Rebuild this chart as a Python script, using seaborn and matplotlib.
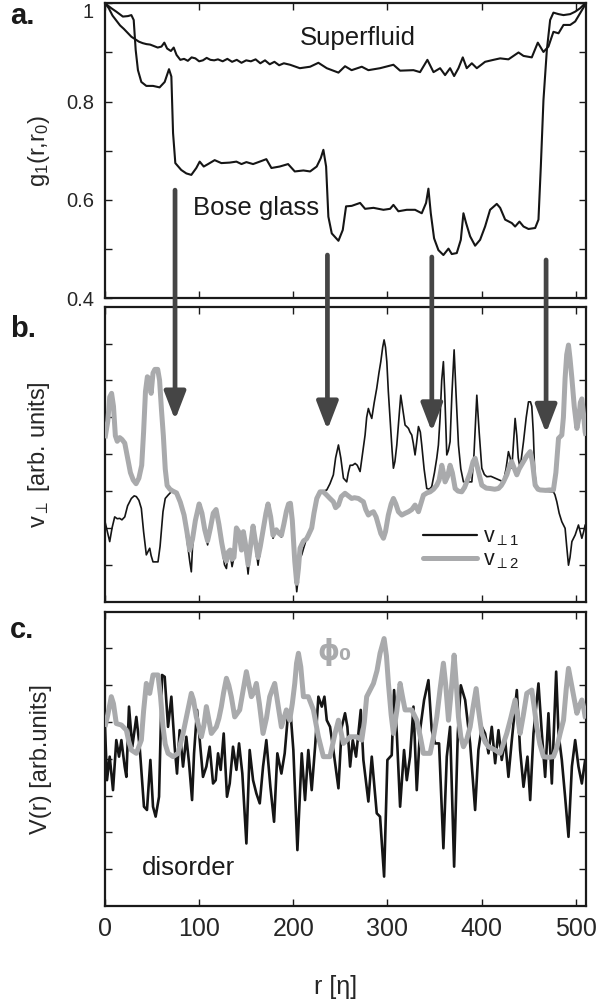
import numpy as np
import pandas as pd
import matplotlib
matplotlib.use("Agg")
import matplotlib.pyplot as plt
from matplotlib.patches import ConnectionPatch
import seaborn as sns

# ---------------- data ----------------
# panel a: g1(r, r0)
r_sf = [0, 4, 8, 12, 16, 20, 24, 28, 32, 36, 40, 44, 48, 52, 56, 60, 63, 66, 70, 73, 76, 80, 84, 88, 92,
        96, 100, 104, 108, 112, 116, 120, 125, 130, 135, 140, 145, 150, 155, 160, 165, 170, 175, 180,
        185, 190, 196.6, 207, 217.9, 226.7, 235.6, 248, 255, 262, 272.8, 279.8, 292.2, 306.4, 313.5,
        327.7, 334.7, 342.5, 349, 356, 361.3, 366.6, 370.9, 375.5, 380.1, 384.3, 389.7, 395, 403.8,
        412.7, 419.8, 428.6, 439.3, 444.6, 453.4, 459.8, 465.8, 471.1, 476.4, 481.8, 487.1, 494.2,
        499.5, 504.8, 510.1, 511]
g_sf = [1.0, 0.99, 0.975, 0.965, 0.955, 0.948, 0.94, 0.932, 0.927, 0.922, 0.919, 0.917, 0.916, 0.913,
        0.91, 0.912, 0.92, 0.908, 0.903, 0.91, 0.895, 0.885, 0.887, 0.883, 0.89, 0.888, 0.882, 0.884,
        0.889, 0.885, 0.884, 0.886, 0.882, 0.887, 0.881, 0.885, 0.879, 0.884, 0.882, 0.886, 0.878,
        0.884, 0.876, 0.881, 0.874, 0.878, 0.875, 0.868, 0.871, 0.879, 0.868, 0.859, 0.872, 0.864,
        0.871, 0.864, 0.868, 0.875, 0.863, 0.864, 0.86, 0.885, 0.86, 0.868, 0.854, 0.868, 0.852, 0.868,
        0.89, 0.868, 0.878, 0.868, 0.881, 0.885, 0.888, 0.886, 0.9, 0.893, 0.89, 0.92, 0.901, 0.912,
        0.942, 0.939, 0.956, 0.956, 0.963, 0.98, 0.997, 1.0]

r_bg = [0, 6.7, 12, 19, 24.4, 28, 30.5, 32.6, 35, 38.6, 43.9, 51, 58, 63.4, 68, 70.5, 72.3, 74.7, 81,
        86.4, 91.7, 97, 100.6, 104.9, 109.5, 116.5, 123.6, 132.5, 139.6, 145, 150.2, 157.3, 164.4,
        171.4, 176.8, 185.6, 194.5, 201.6, 210.8, 217.9, 224.9, 229.2, 232, 234.9, 237.3, 240.9,
        248, 252.6, 256.1, 262.1, 271, 276.3, 285.2, 295.8, 302.9, 306.4, 311.7, 320.6, 329.4,
        336.5, 341.1, 343.6, 346.1, 349.6, 354.2, 359.5, 364.9, 368.4, 373.7, 378, 380.8, 383.6,
        387.9, 393.2, 398.5, 403.8, 409.1, 416.2, 419.8, 425.1, 432.2, 435.7, 440.3, 444.6, 449.9,
        457, 460.5, 463, 465.8, 469.4, 472.9, 476.4, 481.8, 487.1, 494.2, 499.5, 504.8, 510.1, 511]
g_bg = [1.0, 0.99, 0.983, 0.973, 0.974, 0.976, 0.966, 0.905, 0.864, 0.84, 0.832, 0.832, 0.829, 0.84,
        0.866, 0.851, 0.736, 0.675, 0.661, 0.654, 0.651, 0.665, 0.678, 0.668, 0.673, 0.681, 0.675,
        0.676, 0.678, 0.673, 0.677, 0.673, 0.678, 0.683, 0.665, 0.668, 0.673, 0.658, 0.66, 0.658,
        0.668, 0.685, 0.702, 0.668, 0.566, 0.532, 0.517, 0.539, 0.587, 0.588, 0.594, 0.582, 0.584,
        0.58, 0.582, 0.59, 0.577, 0.58, 0.58, 0.573, 0.594, 0.623, 0.573, 0.522, 0.498, 0.488, 0.501,
        0.49, 0.492, 0.519, 0.573, 0.553, 0.526, 0.507, 0.519, 0.546, 0.58, 0.592, 0.584, 0.56, 0.553,
        0.546, 0.556, 0.546, 0.541, 0.543, 0.56, 0.668, 0.803, 0.905, 0.966, 0.981, 0.978, 0.976,
        0.978, 0.983, 0.99, 1.0, 1.0]

# panel b: v_perp1 (black) and v_perp2 (grey)
r_v1 = [0, 2.5, 5, 7.5, 10.3, 13, 15.6, 18, 21, 24, 28, 31, 33.3, 36, 38.6, 41, 43.9, 45.5, 47.5, 49,
        51, 54, 56.3, 58.5, 61.6, 64, 67, 70, 72.3, 75.8, 80, 84, 87, 90, 91.7, 93, 96, 100, 103, 106,
        109, 112, 115, 118, 121, 124, 127, 129, 131, 133, 135, 137, 139.6, 142, 145, 147, 149, 152,
        155, 157.3, 160, 162.6, 165, 168, 171, 173.2, 176, 178.5, 182, 185, 187.4, 190, 192.7, 195,
        197, 199, 201.6, 203.7, 205.5, 207.2, 209, 211, 214, 216, 219.6, 222, 225, 228.5, 232, 235.6,
        239, 242.6, 245, 248, 250.5, 253.3, 256.8, 258.5, 260.4, 263, 265.7, 268, 271, 273.5, 276.3,
        278, 279.8, 281.5, 283.4, 286, 288.7, 291, 293, 295, 296.5, 298, 299.4, 301, 303, 305, 306.4,
        308, 310, 312, 314.2, 316.5, 318.8, 320.5, 322.4, 324, 325.9, 327.5, 329.4, 331, 333, 335,
        336.5, 339, 341.8, 344.5, 347.1, 350, 352.5, 354.2, 356, 357.7, 359.5, 361, 363.1, 364.8,
        366.6, 368.5, 370.9, 373, 375.5, 378, 380.8, 385, 389.7, 392, 395, 397.5, 400.3, 403, 405.6,
        410, 414.5, 419, 423.3, 426, 428.6, 430.5, 432.2, 434, 435.7, 437.5, 439, 441, 444.6, 447.5,
        449.9, 452, 453.4, 455, 456.5, 458.7, 465, 470, 476.4, 478, 480, 482.5, 485.3, 488.8, 490.5,
        492.4, 494, 496, 499.5, 503, 506.6, 508.5, 510.1, 511]
v1 = [2.17, 1.9, 1.63, 2.0, 2.3, 2.25, 2.26, 2.22, 2.3, 2.6, 2.8, 2.87, 2.85, 2.75, 2.53, 1.9, 1.27,
      1.35, 1.45, 1.25, 1.08, 1.08, 1.08, 1.5, 2.44, 2.8, 2.89, 2.97, 2.98, 2.95, 2.7, 2.35, 1.7, 1.1,
      0.81, 1.5, 2.2, 2.65, 2.4, 1.9, 1.54, 2.0, 2.4, 2.5, 2.1, 1.5, 1.0, 0.9, 1.35, 1.3, 0.95, 1.2,
      2.0, 1.9, 1.4, 1.9, 1.5, 0.75, 1.6, 2.05, 1.5, 0.99, 1.5, 1.95, 2.4, 2.65, 2.3, 1.72, 1.95, 1.85,
      1.75, 2.1, 2.45, 2.65, 2.6, 2.2, 1.0, 0.27, 0.7, 1.2, 1.27, 1.45, 1.7, 1.81, 1.99, 2.4, 2.8, 2.98,
      3.0, 3.03, 3.2, 3.44, 3.9, 4.25, 3.9, 3.35, 3.25, 3.5, 3.7, 3.7, 3.75, 3.7, 3.53, 4.0, 4.52, 5.0,
      5.24, 5.1, 4.97, 5.4, 5.79, 6.2, 6.51, 6.9, 7.1, 6.9, 6.51, 5.7, 4.88, 4.1, 3.62, 3.8, 4.25, 4.9,
      5.6, 5.2, 4.79, 4.75, 4.7, 4.6, 4.52, 4.3, 3.98, 4.3, 4.75, 4.6, 4.25, 3.6, 3.07, 3.05, 3.12, 3.5,
      3.9, 4.25, 5.0, 6.0, 6.51, 5.6, 3.98, 4.1, 4.34, 5.6, 6.83, 5.6, 4.25, 3.6, 3.25, 3.25, 3.25, 4.0,
      5.6, 4.6, 3.62, 3.45, 3.39, 3.4, 3.35, 3.3, 3.25, 3.6, 4.07, 3.9, 3.62, 4.3, 4.97, 4.5, 3.9,
      3.62, 4.34, 5.0, 5.42, 5.42, 5.3, 4.6, 3.5, 3.07, 3.0, 2.99, 2.98, 2.9, 2.71, 2.4, 2.17, 1.99,
      1.5, 0.99, 1.2, 1.63, 1.81, 2.08, 1.72, 1.9, 2.08, 2.1]

r_v2 = [0, 3, 5, 7, 9, 11, 13, 15.6, 18, 21, 24, 27, 30, 33, 36, 39, 41, 43, 45, 47, 49, 51, 53, 56, 58,
        60, 62, 64, 66, 69, 72, 76, 80, 84, 87, 90, 93, 96, 100, 103, 106, 109, 112, 115, 118, 121, 124,
        127, 129, 131, 133, 135, 137, 139.6, 142, 145, 147, 149, 152, 155, 157.3, 160, 162.6, 165, 168,
        171, 173.2, 176, 178.5, 182, 185, 187.4, 190, 192.7, 195, 197, 199, 201.6, 203.7, 205.5, 207.2,
        209, 211, 214, 216, 219.6, 222, 225, 228.5, 232, 235.6, 239, 242.6, 245, 248, 251, 255, 258,
        262, 265, 269.2, 272, 274.5, 277, 279.8, 282, 285.2, 288, 290.5, 293, 295.8, 298, 301, 304,
        306.4, 309, 311.7, 315.3, 319, 322.4, 326, 329.4, 331, 333, 336, 338.3, 342, 345.4, 349, 352.5,
        355, 357.8, 359.5, 361.3, 364, 366.6, 369, 372, 375, 379, 382, 384.3, 388, 391, 393.2, 396,
        400.3, 405, 409, 414, 418, 421, 423.3, 427, 430, 432, 435, 437.5, 440, 444.6, 448, 451.7, 454,
        457, 460, 462.3, 468, 472, 476.4, 479, 481.8, 485.3, 487, 488.8, 490.5, 492.4, 494, 496, 498.5,
        501.3, 503.5, 505, 506.6, 508.3, 510.1, 511]
v2 = [4.43, 4.9, 5.55, 5.65, 5.3, 4.5, 4.35, 4.45, 4.4, 4.3, 3.9, 3.5, 3.3, 3.2, 3.35, 3.7, 4.6, 5.7,
      6.1, 6.05, 5.65, 6.2, 6.3, 6.3, 6.0, 5.2, 4.5, 3.6, 3.15, 3.05, 3.0, 2.95, 2.7, 2.35, 1.9, 1.4,
      1.7, 2.2, 2.65, 2.4, 1.95, 1.65, 2.0, 2.4, 2.5, 2.1, 1.6, 1.2, 1.1, 1.35, 1.4, 1.15, 1.2, 2.0,
      1.9, 1.4, 1.9, 1.6, 1.0, 1.6, 2.05, 1.6, 1.2, 1.5, 1.95, 2.4, 2.65, 2.3, 1.8, 1.95, 1.85, 1.8,
      2.1, 2.45, 2.65, 2.67, 2.2, 1.1, 0.5, 0.9, 1.45, 1.55, 1.65, 1.7, 1.8, 2.0, 2.4, 2.8, 2.98, 2.98,
      2.89, 2.8, 2.71, 2.55, 2.62, 2.85, 2.94, 2.88, 2.8, 2.82, 2.8, 2.75, 2.71, 2.5, 2.35, 2.4, 2.44,
      2.3, 2.08, 1.85, 1.72, 1.9, 2.35, 2.65, 2.8, 2.65, 2.44, 2.35, 2.4, 2.44, 2.5, 2.62, 2.55, 2.44,
      2.7, 2.89, 2.95, 2.98, 3.05, 3.16, 3.3, 3.7, 3.5, 3.25, 3.4, 3.7, 3.5, 3.07, 3.0, 2.98, 3.1,
      3.25, 3.5, 3.8, 3.89, 3.6, 3.16, 3.08, 3.07, 3.05, 3.07, 3.15, 3.25, 3.45, 3.7, 3.8, 3.6, 3.44,
      3.6, 3.8, 3.95, 4.07, 3.8, 3.16, 3.05, 3.03, 3.02, 3.03, 3.03, 3.5, 4.43, 4.52, 5.0, 6.06, 6.7,
      6.96, 6.6, 6.06, 5.3, 4.7, 5.0, 5.4, 5.5, 5.1, 4.6, 4.5]

# panel c: disorder potential V(r) (black) and condensate phi0 (grey)
r_dis = [0, 2.1, 5, 8.5, 12, 14.9, 17.4, 20.9, 22.7, 25.5, 29, 33.3, 36.8, 41.4, 44.6, 48.2, 51, 53.8,
         57.4, 60.6, 63.4, 67, 70.5, 74, 76.5, 79.3, 82.9, 86.4, 89.3, 92.5, 94.6, 97.8, 100.6, 104.1,
         107.7, 111.2, 114.8, 117.6, 120.1, 122.9, 126.1, 129.6, 132.5, 136, 139.6, 142.4, 145.9,
         150.2, 153.7, 157.3, 160.8, 164.4, 167.9, 171.4, 175.7, 179.6, 183.1, 187.4, 190.9, 194.5,
         197, 200.1, 204.4, 209, 212.5, 216, 219.6, 223.2, 226.7, 230.3, 233.1, 235.6, 239.1, 242.6,
         248, 251.5, 255, 257.5, 260.4, 263.2, 266.7, 271.7, 274.5, 279.8, 283.4, 288.7, 292.2, 296.5,
         300, 304.6, 307.1, 310, 313.5, 317.7, 320.6, 324.1, 327.7, 331.2, 334.7, 339, 343.6, 347.1,
         350.7, 354.9, 359.5, 363.1, 366.6, 370.9, 374.8, 378, 382.6, 387.9, 393.2, 396.7, 400.3,
         403.8, 407.4, 410.9, 414.5, 418, 421.5, 425.1, 428.6, 432.2, 437.5, 441, 444.6, 448.8, 451.7,
         455.2, 460.5, 464.1, 467.6, 471.1, 474.7, 479.3, 481.8, 485.3, 488.8, 492.4, 496, 499.5, 503,
         506.6, 510.1]
dis = [4.87, 3.42, 4.06, 3.15, 4.51, 4.06, 4.51, 3.79, 3.51, 5.42, 4.33, 5.14, 4.33, 2.7, 2.61, 3.97,
       2.7, 2.43, 2.97, 6.28, 6.23, 4.87, 5.69, 4.33, 3.6, 4.78, 3.79, 4.6, 3.88, 2.88, 4.15, 5.33, 4.51,
       3.51, 3.79, 4.33, 3.33, 3.42, 4.15, 3.7, 4.69, 2.97, 3.33, 4.33, 3.7, 4.42, 3.6, 1.7, 4.24, 3.42,
       3.06, 2.79, 3.79, 4.51, 3.24, 2.29, 4.15, 3.6, 4.15, 5.24, 5.3, 4.24, 1.52, 4.15, 2.88, 4.24,
       3.15, 4.33, 5.69, 5.42, 5.69, 5.05, 4.87, 4.24, 3.2, 4.87, 5.24, 4.87, 3.79, 4.51, 4.06, 5.33,
       3.97, 2.84, 4.06, 2.52, 2.43, 0.8, 3.97, 4.1, 5.87, 4.69, 2.7, 4.24, 3.42, 4.06, 5.42, 3.15, 4.78,
       5.6, 6.14, 4.78, 4.42, 4.42, 1.57, 4.06, 4.87, 1.07, 4.69, 6.0, 5.6, 4.42, 2.61, 4.24, 4.87, 4.69,
       4.15, 4.87, 3.88, 4.78, 3.97, 4.51, 3.51, 4.51, 5.87, 4.24, 3.24, 4.06, 2.88, 4.69, 6.05, 4.69,
       3.51, 5.24, 3.33, 6.37, 4.69, 3.97, 2.97, 1.88, 3.79, 4.51, 3.79, 3.33, 3.97]

r_phi = [0, 3, 6.7, 9, 12, 17.4, 22.7, 25, 28, 33.3, 38.6, 41, 43.9, 47.5, 51, 56.3, 59, 61.6, 64, 67,
         72.3, 77.6, 82.9, 87, 91.7, 94, 97, 102.4, 105, 107.7, 110, 113, 118.3, 121, 123.6, 126, 129,
         131.5, 134.2, 137.8, 143.1, 147, 150.2, 153, 155.5, 158, 160.8, 164, 167.9, 171.5, 175, 178,
         180.3, 183, 187.4, 190, 192.7, 196.2, 199, 201.6, 203.5, 205.5, 208, 210.8, 216, 221.4, 226.7,
         232, 239, 244.4, 248, 251, 253.3, 260.4, 267.4, 272.8, 275.5, 278, 285.2, 289, 292.2, 296.5,
         299, 301.1, 304, 306.4, 310, 313.5, 316, 318.8, 325.9, 331.2, 335, 338.3, 345.4, 349, 352.5,
         356, 359.5, 362, 364.9, 368, 370.9, 373, 375.5, 378, 380.8, 384, 387.9, 391, 394.3, 397, 400.3,
         404, 407.4, 414.5, 419.8, 423, 426.8, 431, 435.7, 438.5, 441, 444.5, 448.1, 453.4, 456, 458.7,
         462, 465.8, 471, 476.4, 480, 483.5, 487.1, 490, 492.4, 496, 498.5, 501.3, 504, 506.6, 508.5,
         510.1, 511]
phi0 = [4.87, 5.2, 5.69, 5.5, 4.96, 4.92, 4.78, 4.5, 4.24, 4.15, 4.51, 5.3, 6.05, 5.78, 6.28, 6.28, 5.7,
        4.87, 4.4, 4.15, 4.06, 4.15, 4.69, 5.2, 5.78, 5.6, 5.14, 4.6, 4.9, 5.42, 5.1, 4.69, 4.87, 5.1,
        5.42, 5.8, 6.19, 6.0, 5.69, 5.14, 5.33, 5.9, 6.37, 6.0, 5.69, 5.8, 6.05, 5.5, 4.69, 5.1, 5.69,
        5.9, 6.05, 5.6, 4.87, 5.1, 5.33, 5.05, 5.5, 6.05, 6.6, 6.87, 6.5, 5.69, 5.69, 5.33, 4.6, 4.06,
        4.06, 4.69, 5.05, 4.7, 4.42, 4.6, 4.6, 4.51, 5.0, 5.69, 6.05, 6.4, 6.87, 7.27, 6.8, 6.05, 5.2,
        4.69, 5.3, 6.05, 5.7, 5.33, 5.33, 5.05, 4.6, 4.15, 4.15, 4.6, 5.14, 5.9, 6.6, 6.0, 5.05, 5.9,
        6.82, 6.1, 5.14, 4.6, 4.33, 4.5, 4.87, 5.4, 5.91, 5.3, 4.69, 4.45, 4.33, 4.24, 4.15, 4.4, 4.69,
        5.1, 5.6, 5.1, 4.69, 5.2, 5.78, 5.87, 5.4, 4.87, 4.4, 4.06, 4.04, 4.06, 4.3, 4.69, 5.05, 5.9,
        6.46, 5.96, 5.6, 5.24, 5.45, 5.6, 5.4, 5.14, 5.1]

# arrows from the g1 jumps down into panel b
arrow_r = [74.4, 236.3, 347.2, 468.6]
arrow_top = [0.62, 0.488, 0.484, 0.478]
arrow_tip = [4.93, 4.66, 4.61, 4.57]

x_ticks = [0, 100, 200, 300, 400, 500]
g_ticks = [0.4, 0.5, 0.6, 0.7, 0.8, 0.9, 1.0]
g_ticklabels = ["0.4", "", "0.6", "", "0.8", "", "1"]
arb_ticks = [1, 2, 3, 4, 5, 6, 7]

# ---------------- style ----------------
sns.set_style("ticks")
plt.rcParams["font.family"] = ["Liberation Sans", "DejaVu Sans"]
plt.rcParams["mathtext.fontset"] = "custom"
plt.rcParams["mathtext.rm"] = "Liberation Sans"
plt.rcParams["mathtext.it"] = "Liberation Sans"
plt.rcParams["text.color"] = "#1a1a1a"

BLACK = "#151515"
GREY = "#a9aaac"
ARROW = "#454545"

fig = plt.figure(figsize=(5.97, 10.01), dpi=100)
W, H = 597, 1001
def axrect(left, top, right, bottom):
    return [left / W, 1 - bottom / H, (right - left) / W, (bottom - top) / H]

ax_a = fig.add_axes(axrect(105, 3.3, 586, 298.3))
ax_b = fig.add_axes(axrect(105, 306.7, 586, 601.7))
ax_c = fig.add_axes(axrect(105, 611.7, 586, 906))

def line(ax, x, y, color, lw, z=2):
    sns.lineplot(x=x, y=y, ax=ax, color=color, linewidth=lw, sort=False, estimator=None,
                 legend=False, zorder=z)
    ax.lines[-1].set_solid_joinstyle("round")
    ax.lines[-1].set_solid_capstyle("butt")

line(ax_a, r_sf, g_sf, BLACK, 1.5)
line(ax_a, r_bg, g_bg, BLACK, 1.5)

line(ax_b, r_v1, v1, BLACK, 1.2, z=2)
line(ax_b, r_v2, v2, GREY, 3.6, z=3)

line(ax_c, r_dis, dis, BLACK, 1.9, z=2)
line(ax_c, r_phi, phi0, GREY, 3.6, z=3)

for ax in (ax_a, ax_b, ax_c):
    ax.set_xlim(0, 511)
    ax.set_xticks(x_ticks)
    ax.tick_params(direction="in", length=5, width=1, top=True, right=True,
                   color="#1a1a1a", pad=8)
    for s in ax.spines.values():
        s.set_linewidth(1.6)
        s.set_color("#1a1a1a")
    ax.set_xlabel("")
    ax.set_ylabel("")

ax_a.set_ylim(0.4, 1.0)
ax_a.set_yticks(g_ticks)
ax_a.set_yticklabels(g_ticklabels, fontsize=14.5)
ax_a.get_yticklabels()[-1].set_va("top")
ax_a.set_xticklabels([])

for ax in (ax_b, ax_c):
    ax.set_ylim(0, 8)
    ax.set_yticks(arb_ticks)
    ax.set_yticklabels([])
ax_b.set_xticklabels([])
ax_c.set_xticklabels([str(t) for t in x_ticks], fontsize=18)

ax_a.set_ylabel(r"g$_1$(r,r$_0$)", fontsize=17)
ax_b.set_ylabel(r"v$_\perp$ [arb. units]", fontsize=17)
ax_c.set_ylabel("V(r) [arb.units]", fontsize=17)
for ax in (ax_a, ax_b, ax_c):
    ax.yaxis.set_label_coords(-0.11, 0.5)
ax_c.set_xlabel("r [η]", fontsize=18)
ax_c.xaxis.set_label_coords(0.48, -0.235)

# annotations
ax_a.text(207, 0.915, "Superfluid", fontsize=18.5, ha="left", va="baseline")
ax_a.text(93, 0.570, "Bose glass", fontsize=18.5, ha="left", va="baseline")
ax_c.text(39.3, 0.84, "disorder", fontsize=18.5, ha="left", va="baseline")
ax_c.text(226, 6.9, "ϕ₀", fontsize=20, color=GREY, fontweight="bold",
          family=["DejaVu Sans"], ha="left", va="center")

leg_handles = [plt.Line2D([], [], color=BLACK, lw=1.6), plt.Line2D([], [], color=GREY, lw=3.6)]
ax_b.legend(leg_handles, [r"v$_{\perp1}$", r"v$_{\perp2}$"], loc="center left",
            bbox_to_anchor=(0.661, 0.18), frameon=False, fontsize=15.5, handlelength=2.5,
            handletextpad=0.3, labelspacing=0.05, borderpad=0, borderaxespad=0)

# panel letters
fig.text(10 / W, 1 - 24 / H, "a.", fontsize=21, fontweight="bold", va="baseline")
fig.text(10 / W, 1 - 336.7 / H, "b.", fontsize=21, fontweight="bold", va="baseline")
fig.text(10 / W, 1 - 638.3 / H, "c.", fontsize=21, fontweight="bold", va="baseline")

# arrows
for xr, ytop, ytip in zip(arrow_r, arrow_top, arrow_tip):
    cp = ConnectionPatch(xyA=(xr, ytop), coordsA=ax_a.transData,
                         xyB=(xr, ytip), coordsB=ax_b.transData,
                         arrowstyle="-|>,head_length=1.3,head_width=0.5", mutation_scale=13,
                         lw=3.4, color=ARROW, shrinkA=0, shrinkB=0, zorder=10)
    fig.add_artist(cp)

fig.savefig("out.png", dpi=100)
